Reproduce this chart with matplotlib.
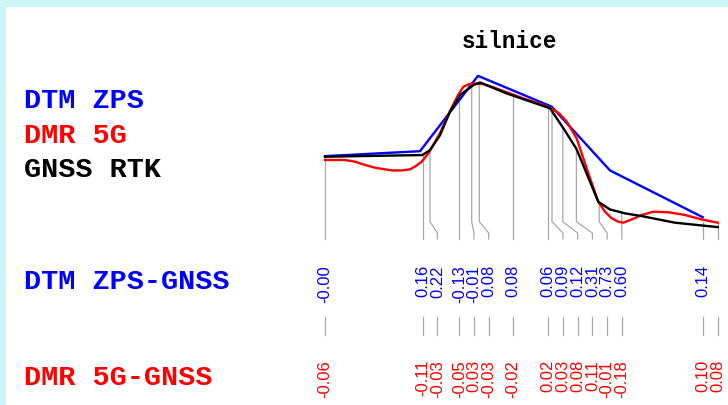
import numpy as np
import matplotlib.pyplot as plt
from matplotlib.patches import Rectangle

# profile lines: distance along profile [m], elevation [m]
dtm_d = [0.0, 9.5, 15.3, 22.67, 28.5, 37.77]
dtm_h = [250.07, 250.16, 251.53, 250.97, 249.81, 248.96]

dmr_d = [0.0, 2.0, 3.0, 4.0, 5.0, 5.67, 6.7, 7.67, 8.5, 9.0, 9.67, 10.33, 11.5, 12.5,
         13.3, 13.83, 14.4, 14.83, 15.83, 17.0, 18.5, 19.83, 21.2, 22.5, 23.4,
         24.17, 25.17, 26.33, 27.33, 28.0, 28.67, 29.3, 29.83, 30.67, 31.7,
         32.83, 34.33, 36.0, 37.67, 39.27]
dmr_h = [250.00, 250.00, 249.97, 249.91, 249.86, 249.84, 249.81, 249.81, 249.83,
         249.88, 249.97, 250.12, 250.49, 250.89, 251.18, 251.33, 251.38, 251.39,
         251.38, 251.31, 251.21, 251.12, 251.04, 250.95, 250.85, 250.70, 250.39,
         249.76, 249.24, 249.06, 248.94, 248.88, 248.86, 248.92, 249.00, 249.06,
         249.05, 249.00, 248.92, 248.86]

gnss_line_d = [0.0, 9.73, 10.5, 11.5, 12.5, 13.5, 14.83, 15.5, 18.17, 22.5, 23.83,
               25.15, 27.33, 28.5, 30.0, 31.67, 35.0, 37.67, 39.27]
gnss_line_h = [250.06, 250.09, 250.18, 250.45, 250.88, 251.18, 251.36, 251.41, 251.21,
               250.94, 250.58, 250.20, 249.24, 249.10, 249.03, 248.98, 248.86, 248.81,
               248.78]

# measured GNSS RTK points
gnss_d = [0.0, 9.77, 10.5, 13.43, 14.67, 15.43, 18.77, 22.33, 22.7, 23.78, 25.14,
          27.42, 29.67, 37.77, 39.25]

# height differences at the GNSS points
dtm_diff = [-0.0, 0.16, 0.22, -0.13, -0.01, 0.08, 0.08, 0.06, 0.09, 0.12, 0.31,
            0.73, 0.60, 0.14, np.nan]
dmr_diff = [-0.06, -0.11, -0.03, -0.05, 0.03, -0.03, -0.02, 0.02, 0.03, 0.08, 0.11,
            -0.01, -0.18, 0.10, 0.08]

title = "silnice"
W, H = 728, 405


def spread(pos, gap):
    out = []
    for p in pos:
        if out and p < out[-1] + gap:
            p = out[-1] + gap
        out.append(p)
    return out


fig = plt.figure(figsize=(W / 100, H / 100), dpi=100)
fig.patch.set_facecolor("#cdf6f6")
fig.patches.append(Rectangle((6 / W, 0), 1, 1 - 7 / H, transform=fig.transFigure,
                             facecolor="white", edgecolor="none", zorder=-1))

ax = fig.add_axes([0, 0, 1, 1])
ax.set_axis_off()
ax.patch.set_alpha(0)
ax.set_xlim(-32.5, 40.3)
ax.set_ylim(250 - 245 / 55, 250 + 160 / 55)


def ypix(py):
    # figure pixel row -> elevation units of the axes
    lo, hi = ax.get_ylim()
    return hi - py / H * (hi - lo)


ax.plot(dtm_d, dtm_h, color="#0000ff", lw=1.7, zorder=3)
ax.plot(dmr_d, dmr_h, color="#ff0000", lw=1.7, zorder=3)
ax.plot(gnss_line_d, gnss_line_h, color="black", lw=1.7, zorder=4)

gnss_h = np.interp(gnss_d, gnss_line_d, gnss_line_h)
lab_d = spread(gnss_d, 1.47)

grey = "#a8a8a8"
for d, h, ld in zip(gnss_d, gnss_h, lab_d):
    ax.plot([d, d, ld, ld], [h, ypix(221.7), ypix(233), ypix(239)],
            color=grey, lw=0.9, zorder=1)
    ax.plot([ld, ld], [ypix(317), ypix(335)], color=grey, lw=0.9, zorder=1)

for ld, v in zip(lab_d, dtm_diff):
    if np.isnan(v):
        continue
    ax.text(ld, ypix(265), "%.2f" % v, color="#0000ff", rotation=90,
            ha="center", va="top", fontsize=12, family="Liberation Sans")
for ld, v in zip(lab_d, dmr_diff):
    ax.text(ld, ypix(360), "%.2f" % v, color="#ff0000", rotation=90,
            ha="center", va="top", fontsize=12, family="Liberation Sans")

mono = dict(family="Liberation Mono", weight="bold")
fig.text(509.5 / W, 1 - 41 / H, title, ha="center", va="center", fontsize=16.3, **mono)

left = [("DTM ZPS", "#0000ff", 100.5), ("DMR 5G", "#ff0000", 136),
        ("GNSS RTK", "black", 170.5), ("DTM ZPS-GNSS", "#0000ff", 282),
        ("DMR 5G-GNSS", "#ff0000", 378)]
for s, c, py in left:
    fig.text(24.5 / W, 1 - py / H, s, color=c, ha="left", va="center",
             fontsize=20.5, **mono)

fig.savefig("out.png", dpi=100)
